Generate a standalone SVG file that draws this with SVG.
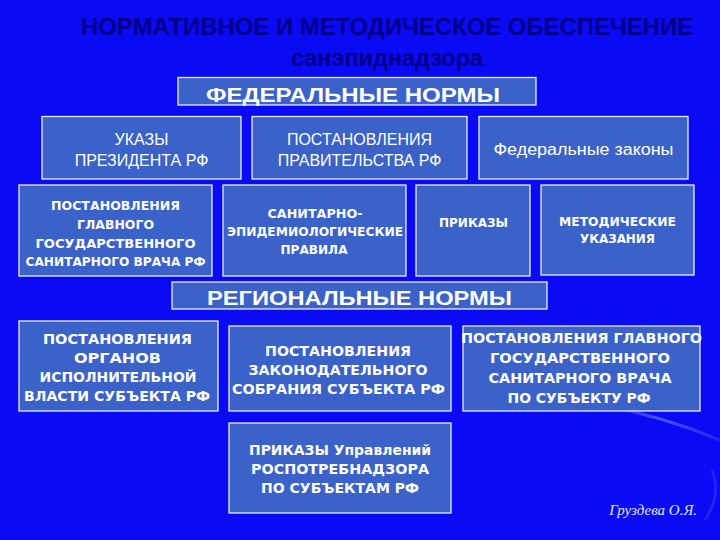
<svg xmlns="http://www.w3.org/2000/svg" width="720" height="540" viewBox="0 0 720 540">
<defs>
<linearGradient id="sw" x1="0" y1="0" x2="1" y2="0">
<stop offset="0" stop-color="#ffffff" stop-opacity="0"/>
<stop offset="0.5" stop-color="#c8d4ff" stop-opacity="0.35"/>
<stop offset="1" stop-color="#ffffff" stop-opacity="0.1"/>
</linearGradient>
</defs>
<style>
.box{fill:#3a62c8;stroke:#e8eeff;stroke-width:1.3}
.t{font-family:"Liberation Sans",Arial,sans-serif;fill:#ffffff;text-anchor:middle}
.b{font-family:"DejaVu Sans","Liberation Sans",sans-serif;font-weight:bold}
.h{font-family:"Liberation Sans",Arial,sans-serif;font-weight:bold}
.title{font-family:"Liberation Sans",Arial,sans-serif;font-weight:bold;fill:#000088;text-anchor:middle;font-size:23px}
.sig{font-family:"Liberation Serif","Times New Roman",serif;font-style:italic;fill:#dfe8ff;font-size:15px;text-anchor:end}
</style>
<rect x="0" y="0" width="720" height="540" fill="#0a0af4"/>
<path d="M600 405 Q660 415 720 440" fill="none" stroke="url(#sw)" stroke-width="3"/>
<path d="M705 520 Q722 495 712 470" fill="none" stroke="#aab8ff" stroke-opacity="0.15" stroke-width="3"/>

<g id="title">
<text class="title" x="387" y="35" textLength="612" lengthAdjust="spacingAndGlyphs">НОРМАТИВНОЕ И МЕТОДИЧЕСКОЕ ОБЕСПЕЧЕНИЕ</text>
<text class="title" x="387" y="66" textLength="192" lengthAdjust="spacingAndGlyphs">санэпиднадзора</text>
</g>

<g id="connectors"></g>

<g id="federal-header">
<rect class="box" x="178" y="77.5" width="358" height="27.5"/>
<text class="t h" x="353" y="102" font-size="21" textLength="294" lengthAdjust="spacingAndGlyphs">ФЕДЕРАЛЬНЫЕ НОРМЫ</text>
</g>

<g id="ukazy">
<rect class="box" x="42" y="116.5" width="199" height="62.5"/>
<text class="t" x="141.5" y="145" font-size="16">УКАЗЫ</text>
<text class="t" x="141.5" y="166" font-size="16">ПРЕЗИДЕНТА РФ</text>
</g>

<g id="post-prav">
<rect class="box" x="252" y="116.5" width="215" height="62.5"/>
<text class="t" x="359.5" y="145" font-size="16">ПОСТАНОВЛЕНИЯ</text>
<text class="t" x="359.5" y="166" font-size="16">ПРАВИТЕЛЬСТВА РФ</text>
</g>

<g id="fed-zakony">
<rect class="box" x="479" y="116.5" width="209" height="62.5"/>
<text class="t" x="583.5" y="155" font-size="16" textLength="180" lengthAdjust="spacingAndGlyphs">Федеральные законы</text>
</g>

<g id="post-glav">
<rect class="box" x="19" y="185" width="193" height="91"/>
<text class="t b" x="115.5" y="210" font-size="12" textLength="129" lengthAdjust="spacingAndGlyphs">ПОСТАНОВЛЕНИЯ</text>
<text class="t b" x="115.5" y="229" font-size="12" textLength="77" lengthAdjust="spacingAndGlyphs">ГЛАВНОГО</text>
<text class="t b" x="115.5" y="248" font-size="12" textLength="160" lengthAdjust="spacingAndGlyphs">ГОСУДАРСТВЕННОГО</text>
<text class="t b" x="115.5" y="266" font-size="12" textLength="180" lengthAdjust="spacingAndGlyphs">САНИТАРНОГО ВРАЧА РФ</text>
</g>

<g id="sanpin">
<rect class="box" x="223" y="185" width="183" height="91"/>
<text class="t b" x="315" y="218" font-size="12" textLength="95" lengthAdjust="spacingAndGlyphs">САНИТАРНО-</text>
<text class="t b" x="315" y="236" font-size="12" textLength="176" lengthAdjust="spacingAndGlyphs">ЭПИДЕМИОЛОГИЧЕСКИЕ</text>
<text class="t b" x="314" y="254" font-size="12" textLength="67" lengthAdjust="spacingAndGlyphs">ПРАВИЛА</text>
</g>

<g id="prikazy">
<rect class="box" x="416" y="185" width="114" height="91"/>
<text class="t b" x="473.5" y="227" font-size="12" textLength="69" lengthAdjust="spacingAndGlyphs">ПРИКАЗЫ</text>
</g>

<g id="metod">
<rect class="box" x="541" y="185" width="153" height="90"/>
<text class="t b" x="617.5" y="226" font-size="12" textLength="117" lengthAdjust="spacingAndGlyphs">МЕТОДИЧЕСКИЕ</text>
<text class="t b" x="617.5" y="243" font-size="12" textLength="75" lengthAdjust="spacingAndGlyphs">УКАЗАНИЯ</text>
</g>

<g id="regional-header">
<rect class="box" x="172" y="282" width="375" height="27"/>
<text class="t h" x="359.5" y="305" font-size="21" textLength="305" lengthAdjust="spacingAndGlyphs">РЕГИОНАЛЬНЫЕ НОРМЫ</text>
</g>

<g id="post-organov">
<rect class="box" x="19" y="321" width="199" height="90"/>
<text class="t b" x="117.5" y="344" font-size="14" textLength="149" lengthAdjust="spacingAndGlyphs">ПОСТАНОВЛЕНИЯ</text>
<text class="t b" x="117.5" y="363" font-size="14" textLength="87" lengthAdjust="spacingAndGlyphs">ОРГАНОВ</text>
<text class="t b" x="118" y="382" font-size="14" textLength="157" lengthAdjust="spacingAndGlyphs">ИСПОЛНИТЕЛЬНОЙ</text>
<text class="t b" x="117" y="401" font-size="14" textLength="186" lengthAdjust="spacingAndGlyphs">ВЛАСТИ СУБЪЕКТА РФ</text>
</g>

<g id="post-zakon">
<rect class="box" x="229" y="326" width="222" height="85"/>
<text class="t b" x="338" y="356" font-size="14" textLength="146" lengthAdjust="spacingAndGlyphs">ПОСТАНОВЛЕНИЯ</text>
<text class="t b" x="338" y="375" font-size="14" textLength="179" lengthAdjust="spacingAndGlyphs">ЗАКОНОДАТЕЛЬНОГО</text>
<text class="t b" x="338.5" y="394" font-size="14" textLength="213" lengthAdjust="spacingAndGlyphs">СОБРАНИЯ СУБЪЕКТА РФ</text>
</g>

<g id="post-glav-subj">
<rect class="box" x="463" y="326" width="237" height="85"/>
<text class="t b" x="581.5" y="343" font-size="14" textLength="241" lengthAdjust="spacingAndGlyphs">ПОСТАНОВЛЕНИЯ ГЛАВНОГО</text>
<text class="t b" x="580" y="363" font-size="14" textLength="180" lengthAdjust="spacingAndGlyphs">ГОСУДАРСТВЕННОГО</text>
<text class="t b" x="580" y="383" font-size="14" textLength="183" lengthAdjust="spacingAndGlyphs">САНИТАРНОГО ВРАЧА</text>
<text class="t b" x="579" y="403" font-size="14" textLength="143" lengthAdjust="spacingAndGlyphs">ПО СУБЪЕКТУ РФ</text>
</g>

<g id="prikazy-rpn">
<rect class="box" x="229" y="423" width="222" height="90"/>
<text class="t b" x="340" y="455" font-size="14" textLength="182" lengthAdjust="spacingAndGlyphs">ПРИКАЗЫ Управлений</text>
<text class="t b" x="340" y="474" font-size="14" textLength="178" lengthAdjust="spacingAndGlyphs">РОСПОТРЕБНАДЗОРА</text>
<text class="t b" x="340" y="493" font-size="14" textLength="158" lengthAdjust="spacingAndGlyphs">ПО СУБЪЕКТАМ РФ</text>
</g>

<text class="sig" x="697" y="515">Груздева О.Я.</text>
</svg>
